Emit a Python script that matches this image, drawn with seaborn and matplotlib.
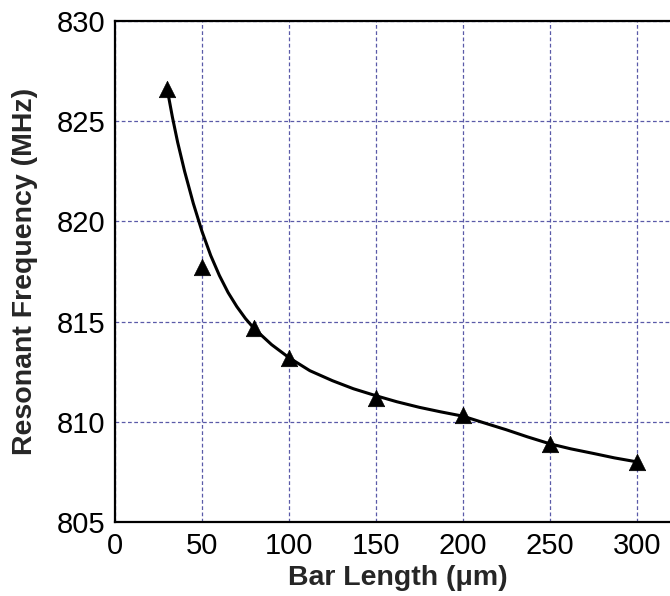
import matplotlib
matplotlib.use("Agg")
import matplotlib.pyplot as plt
import seaborn as sns
import pandas as pd

# Measured data points
bar_length = [30, 50, 80, 100, 150, 200, 250, 300]
freq = [826.6, 817.7, 814.7, 813.2, 811.2, 810.35, 808.9, 808.0]

# Fitted curve
fit_x = [30, 33, 36, 40, 45, 50, 55, 60, 65, 70, 75, 80, 90, 100, 112, 125,
         137, 150, 162, 175, 187, 200, 212, 225, 237, 250, 262, 275, 287, 300]
fit_y = [826.6, 825.2, 823.95, 822.5, 820.9, 819.5, 818.3, 817.3, 816.45,
         815.75, 815.15, 814.65, 813.85, 813.2, 812.55, 812.05, 811.65, 811.3,
         811.0, 810.72, 810.5, 810.28, 809.95, 809.6, 809.25, 808.9, 808.65,
         808.42, 808.2, 808.0]

x_ticks = [0, 50, 100, 150, 200, 250, 300]
y_ticks = [805, 810, 815, 820, 825, 830]

sns.set_style("white")
plt.rcParams['font.family'] = ['Liberation Sans', 'DejaVu Sans']

pts = pd.DataFrame({"x": bar_length, "y": freq})
curve = pd.DataFrame({"x": fit_x, "y": fit_y})

fig = plt.figure(figsize=(6.70, 5.96), dpi=100)
ax = fig.add_axes([115 / 670, 74 / 596, 565.5 / 670, 501 / 596])

sns.lineplot(data=curve, x="x", y="y", ax=ax, color="black", linewidth=2.2,
             sort=False, zorder=3)
sns.scatterplot(data=pts, x="x", y="y", ax=ax, marker="^", color="black",
                s=140, edgecolor="black", linewidth=0.5, zorder=4)

ax.set_xlim(0, 325)
ax.set_ylim(805, 830)
ax.set_xticks(x_ticks)
ax.set_yticks(y_ticks)

ax.grid(True, color="#5a5aa8", linestyle=(0, (3, 2)), linewidth=0.9)
ax.set_axisbelow(True)

for side in ["left", "bottom", "top", "right"]:
    ax.spines[side].set_color("black")
    ax.spines[side].set_linewidth(1.6)

ax.tick_params(axis="both", direction="in", length=5, width=1.3,
               labelsize=21, pad=7, colors="black")

ax.set_xlabel("Bar Length (\u03bcm)", fontsize=20.5, fontweight="bold", labelpad=4)
ax.set_ylabel("Resonant Frequency (MHz)", fontsize=20.5, fontweight="bold", labelpad=13)

fig.savefig("out.png", dpi=100)
